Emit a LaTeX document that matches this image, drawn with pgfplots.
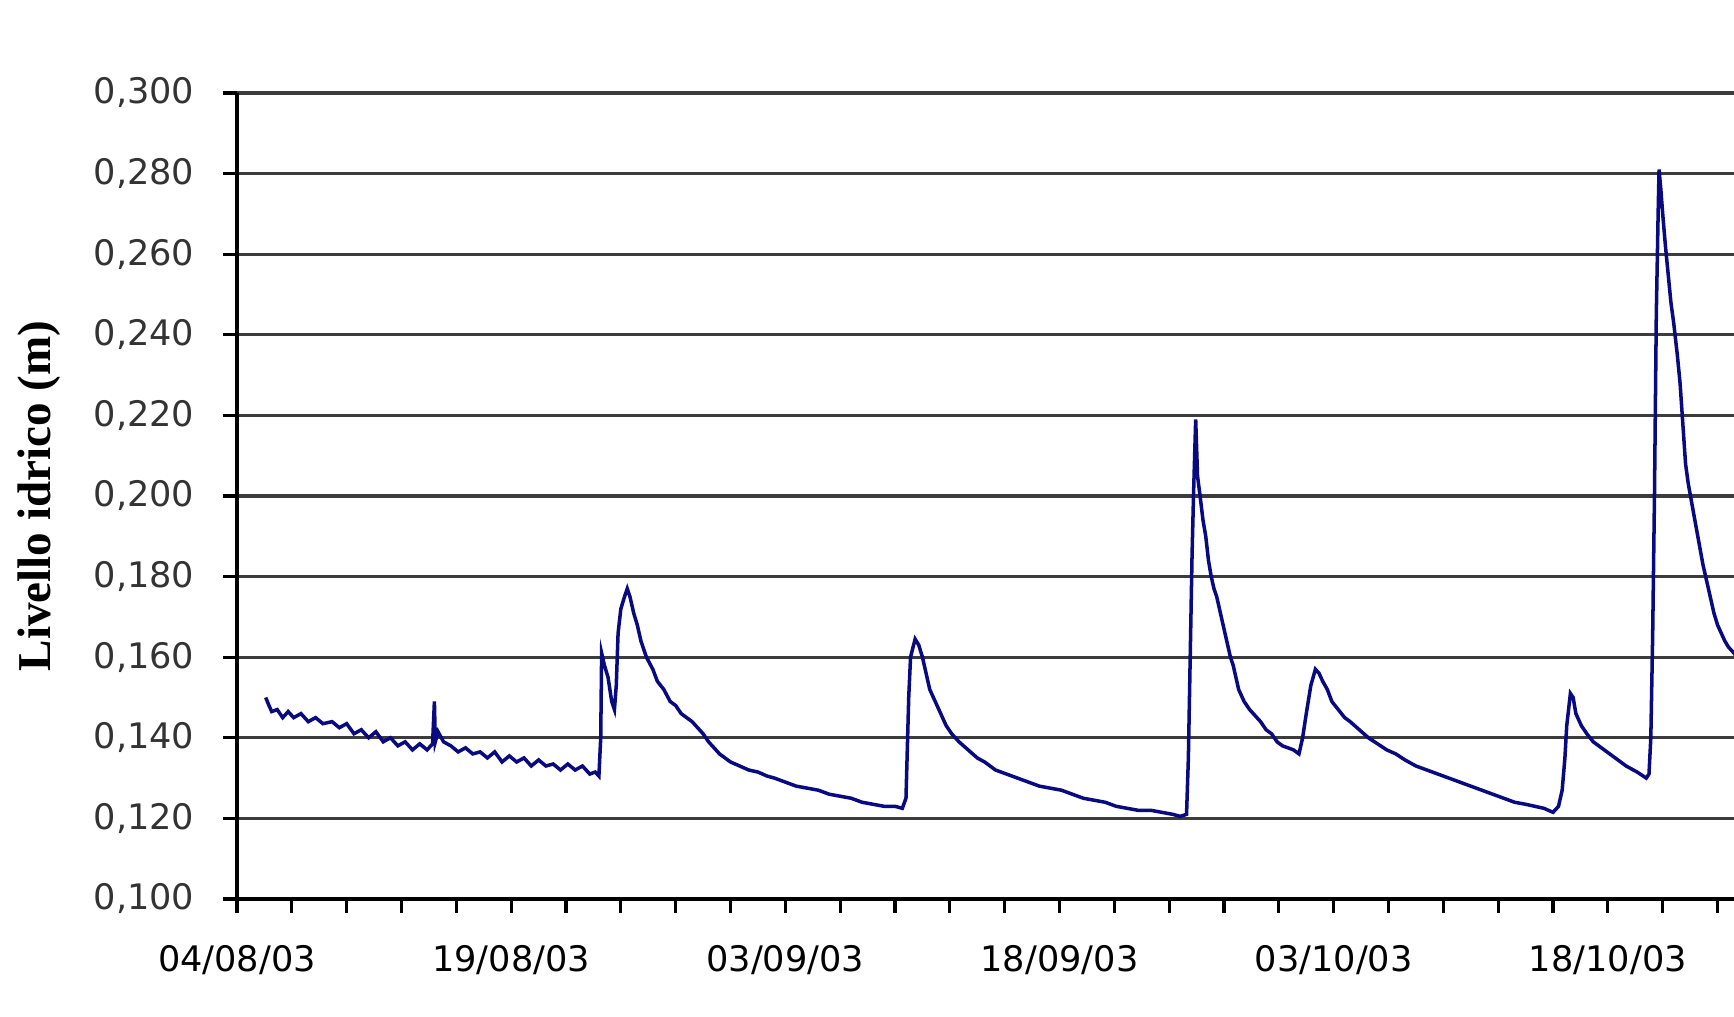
\documentclass[border=0pt]{standalone}
\usepackage{pgfplots}
\pgfplotsset{compat=1.18}
\usepackage{fontspec}
\setmainfont{DejaVu Sans}
\newfontfamily\labelfont{Liberation Serif}
\definecolor{navyline}{RGB}{10,10,128}
\definecolor{gridgray}{RGB}{60,60,60}
\begin{document}
\begin{tikzpicture}
\useasboundingbox (-2.37cm,-1.18cm) rectangle (14.97cm,8.99cm);
\begin{axis}[
  scale only axis,
  width=14.97cm, height=8.06cm,
  at={(0,0)}, anchor=south west,
  xmin=0, xmax=81.9,
  ymin=0.1, ymax=0.3,
  axis x line*=bottom, axis y line*=left,
  axis line style={line width=1.1pt, black},
  ytick={0.10,0.12,...,0.301},
  xtick={0,15,30,45,60,75},
  xticklabels={04/08/03,19/08/03,03/09/03,18/09/03,03/10/03,18/10/03},
  minor xtick={3,6,9,12,18,21,24,27,33,36,39,42,48,51,54,57,63,66,69,72,78,81},
  tick align=outside,
  major tick length=0.14cm, minor tick length=0.14cm,
  every tick/.style={black, line width=0.9pt},
  ymajorgrids,
  major grid style={gridgray, line width=0.9pt},
  /pgf/number format/assume math mode=true,
  yticklabel={\pgfmathprintnumber[fixed, fixed zerofill, precision=3, use comma]{\tick}},
  yticklabel style={font=\fontsize{10}{12}\selectfont, text=black!80, anchor=east, inner sep=0pt, xshift=-0.28cm},
  xticklabel style={font=\fontsize{10}{12}\selectfont, text=black, anchor=north, inner sep=0pt, yshift=-0.32cm},
  ylabel={Livello idrico (m)},
  ylabel style={font=\labelfont\bfseries\fontsize{13.4}{15}\selectfont, at={(axis description cs:-0.1323,0.5)}, anchor=center},
]
\addplot[navyline, line width=1pt] coordinates {
(1.57,0.150) (1.75,0.148) (1.9,0.1465) (2.2,0.147) (2.5,0.145) (2.8,0.1465) (3.1,0.145) (3.5,0.146)
(3.9,0.144) (4.3,0.145) (4.7,0.1435) (5.2,0.144) (5.6,0.1425) (6.0,0.1435) (6.4,0.141) (6.8,0.142)
(7.2,0.140) (7.6,0.1415) (8.0,0.139) (8.4,0.140) (8.8,0.138) (9.2,0.139) (9.6,0.137) (10.0,0.1385)
(10.4,0.137) (10.7,0.1385) (10.8,0.149) (10.85,0.139) (11.0,0.1415) (11.3,0.139) (11.7,0.138)
(12.1,0.1365) (12.5,0.1375) (12.9,0.136) (13.3,0.1365) (13.7,0.135) (14.1,0.1365) (14.5,0.134)
(14.9,0.1355) (15.3,0.134) (15.7,0.135) (16.1,0.133) (16.5,0.1345) (16.9,0.133) (17.3,0.1335)
(17.7,0.132) (18.1,0.1335) (18.5,0.132) (18.9,0.133) (19.3,0.131) (19.6,0.1315) (19.8,0.1305)
(19.9,0.140) (19.95,0.161) (20.1,0.158) (20.3,0.155) (20.5,0.149) (20.65,0.147) (20.75,0.153)
(20.85,0.166) (21.0,0.172) (21.2,0.175) (21.35,0.177) (21.5,0.175) (21.7,0.171) (21.9,0.168)
(22.1,0.164) (22.4,0.160) (22.75,0.157) (23.0,0.154) (23.35,0.152) (23.7,0.149) (24.0,0.148)
(24.3,0.146) (24.6,0.145) (24.9,0.144) (25.2,0.1425) (25.5,0.141) (25.8,0.139) (26.1,0.1375)
(26.4,0.136) (26.7,0.135) (27.0,0.134) (27.5,0.133) (28.0,0.132) (28.5,0.1315) (29.0,0.1305)
(29.4,0.130) (30.0,0.129) (30.6,0.128) (31.2,0.1275) (31.8,0.127) (32.4,0.126) (33.0,0.1255)
(33.6,0.125) (34.2,0.124) (34.8,0.1235) (35.4,0.123) (36.0,0.123) (36.4,0.1225) (36.6,0.125)
(36.75,0.150) (36.85,0.160) (37.1,0.1645) (37.3,0.163) (37.5,0.160) (37.7,0.156) (37.9,0.152)
(38.2,0.149) (38.5,0.146) (38.8,0.143) (39.1,0.141) (39.5,0.139) (40.0,0.137) (40.5,0.135)
(40.9,0.134) (41.5,0.132) (42.1,0.131) (42.7,0.130) (43.3,0.129) (43.9,0.128) (44.5,0.1275)
(45.1,0.127) (45.7,0.126) (46.3,0.125) (46.9,0.1245) (47.5,0.124) (48.1,0.123) (48.7,0.1225)
(49.3,0.122) (50.0,0.122) (50.6,0.1215) (51.2,0.121) (51.6,0.1205) (51.95,0.121) (52.05,0.135)
(52.15,0.160) (52.25,0.185) (52.33,0.200) (52.45,0.219) (52.55,0.205) (52.69,0.200) (52.85,0.194)
(53.0,0.190) (53.15,0.184) (53.3,0.180) (53.45,0.177) (53.6,0.175) (53.75,0.172) (53.9,0.169)
(54.05,0.166) (54.2,0.163) (54.35,0.160) (54.5,0.158) (54.65,0.155) (54.8,0.152) (55.1,0.149)
(55.4,0.147) (55.7,0.1455) (56.0,0.144) (56.3,0.142) (56.6,0.141) (56.9,0.139) (57.2,0.138)
(57.5,0.1375) (57.8,0.137) (58.1,0.136) (58.3,0.140) (58.5,0.146) (58.75,0.153) (59.0,0.157)
(59.2,0.156) (59.4,0.154) (59.65,0.152) (59.9,0.149) (60.25,0.147) (60.6,0.145) (60.9,0.144)
(61.4,0.142) (61.9,0.140) (62.4,0.1385) (62.9,0.137) (63.4,0.136) (63.9,0.1345) (64.5,0.133)
(65.1,0.132) (65.7,0.131) (66.3,0.130) (66.9,0.129) (67.5,0.128) (68.1,0.127) (68.7,0.126)
(69.3,0.125) (69.9,0.124) (70.5,0.1235) (71.0,0.123) (71.5,0.1225) (72.0,0.1215) (72.3,0.123)
(72.5,0.127) (72.65,0.135) (72.75,0.143) (72.95,0.151) (73.1,0.150) (73.25,0.146) (73.55,0.143)
(73.85,0.141) (74.2,0.139) (74.8,0.137) (75.4,0.135) (76.0,0.133) (76.6,0.1315) (77.1,0.130)
(77.25,0.131) (77.35,0.140) (77.45,0.165) (77.55,0.200) (77.65,0.245) (77.75,0.270) (77.8,0.281)
(77.9,0.276) (78.0,0.270) (78.15,0.262) (78.3,0.255) (78.45,0.248) (78.6,0.243) (78.8,0.235)
(78.95,0.228) (79.1,0.218) (79.25,0.208) (79.4,0.203) (79.6,0.198) (79.8,0.193) (80.0,0.188)
(80.2,0.183) (80.4,0.179) (80.6,0.175) (80.8,0.171) (81.0,0.168) (81.2,0.166) (81.4,0.164)
(81.6,0.1625) (81.9,0.161) (82.2,0.159)
};
\end{axis}
\end{tikzpicture}
\end{document}
